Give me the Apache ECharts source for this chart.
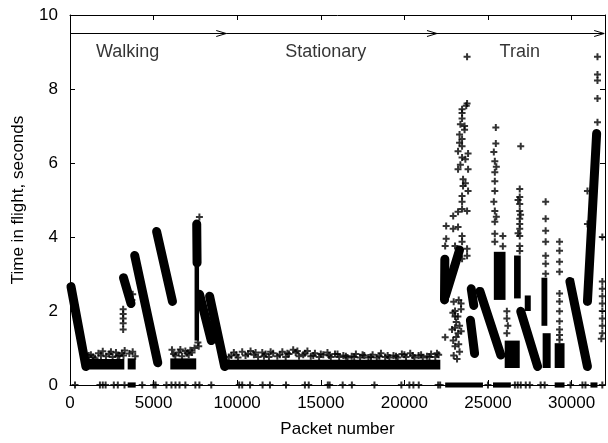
<!DOCTYPE html>
<html>
<head>
<meta charset="utf-8">
<script src="https://cdn.jsdelivr.net/npm/echarts@6/dist/echarts.min.js"></script>
<style>
html, body { margin: 0; padding: 0; background: #fff; }
#chart { width: 608px; height: 443px; }
</style>
</head>
<body>
<div id="chart"></div>
<script>
// Axis ticks
const xTicks = [0, 5000, 10000, 15000, 20000, 25000, 30000];
const yTicks = [0, 2, 4, 6, 8, 10];

// Phases of the trace: [start packet, end packet] drawn as arrows at 9.5 s
const phaseArrows = [[0, 9345], [9345, 21950], [21950, 31950]];
const phaseLabels = [[3450, 9.0, 'Walking'], [15300, 9.0, 'Stationary'], [26900, 9.0, 'Train']];

// Dense decaying runs of packets: [x0, y0, x1, y1]
const walkingRuns = [
  [60, 2.66, 950, 0.5],
  [3200, 2.9, 3650, 2.2],
  [3870, 3.5, 5250, 0.6],
  [5180, 4.15, 6130, 2.26],
  [7580, 4.35, 7600, 3.3],
  [7750, 2.45, 8450, 1.2],
  [8350, 2.4, 9250, 0.5]
];
const trainRuns = [
  [22400, 2.3, 22420, 3.4],
  [22450, 2.4, 23300, 3.65],
  [24000, 2.6, 24150, 2.15],
  [23950, 1.75, 24200, 0.85],
  [24520, 2.53, 25770, 0.81],
  [26960, 1.99, 27970, 0.5],
  [29900, 2.8, 30950, 0.5],
  [30950, 2.26, 31500, 6.8]
];

// Dense clouds of packets: [x0, x1, yLow, yHigh]
const floorClouds = [
  [880, 3250, 0.42, 0.7],
  [3450, 3930, 0.42, 0.72],
  [6000, 7550, 0.42, 0.72],
  [9250, 22150, 0.42, 0.68]
];
const burstClouds = [
  [7450, 7720, 1.2, 3.4],
  [25350, 26050, 2.3, 3.6],
  [26000, 26900, 0.46, 1.2],
  [26560, 26960, 2.34, 3.5],
  [27200, 27560, 2.0, 2.42],
  [28200, 28550, 1.6, 2.9],
  [28270, 28750, 0.46, 1.4],
  [28990, 29580, 0.46, 1.13],
  [29880, 30150, 2.34, 2.88]
];
// Runs of lost packets plotted at zero
const lossRuns = [
  [3450, 3930, -0.07, 0.07],
  [22440, 24700, -0.07, 0.07],
  [25300, 26370, -0.07, 0.07],
  [28990, 29580, -0.07, 0.07],
  [31130, 31550, -0.07, 0.07]
];

// Individual packets
const walkingPts = [
  [1000, 0.74], [1250, 0.82], [1500, 0.72], [1700, 0.86], [1960, 0.91], [2150, 0.78],
  [2350, 0.84], [2550, 0.76], [2750, 0.88], [2950, 0.8], [3100, 0.86], [3270, 0.93],
  [1120, 0.8], [1380, 0.76], [1850, 0.8], [2450, 0.9], [2850, 0.78], [3200, 0.8],
  [3180, 2.05], [3180, 1.92], [3180, 1.8], [3180, 1.67], [3180, 1.5],
  [3700, 2.3], [3750, 2.45], [3550, 0.85], [3750, 0.9], [3900, 0.78],
  [6100, 0.95], [6300, 0.8], [6500, 0.88], [6700, 0.78], [6900, 0.92], [7100, 0.82],
  [7300, 0.88], [7450, 1.0], [6200, 0.84], [6600, 0.96], [7000, 0.86], [7200, 0.94],
  [7740, 4.54], [7650, 1.15], [7700, 1.05]
];
const stationaryPts = [
  [9500, 0.76], [9800, 0.88], [10050, 0.74], [10300, 0.9], [10500, 0.8], [10800, 0.92],
  [11000, 0.82], [11250, 0.76], [11500, 0.88], [11700, 0.84], [11900, 0.76], [12150, 0.86],
  [12400, 0.78], [12700, 0.9], [12900, 0.76], [13100, 0.84], [13350, 0.95], [13500, 0.88],
  [13700, 0.78], [13950, 0.82], [14200, 0.92], [14400, 0.78], [14650, 0.86], [14900, 0.76],
  [15150, 0.82], [15400, 0.88], [15600, 0.76], [15850, 0.84], [16100, 0.76], [16350, 0.8],
  [16600, 0.74], [16850, 0.78], [17100, 0.84], [17350, 0.74], [17600, 0.8], [17850, 0.74],
  [18100, 0.82], [18350, 0.74], [18600, 0.86], [18850, 0.76], [19100, 0.74], [19350, 0.8],
  [19600, 0.74], [19850, 0.84], [20100, 0.76], [20350, 0.86], [20600, 0.74], [20850, 0.8],
  [21100, 0.74], [21350, 0.78], [21600, 0.84], [21850, 0.76], [22050, 0.82],
  [9650, 0.8], [9950, 0.82], [10650, 0.84], [11100, 0.88], [11600, 0.78], [12000, 0.9],
  [12550, 0.82], [13000, 0.86], [13600, 0.92], [14050, 0.86], [14550, 0.8], [15000, 0.84],
  [15500, 0.8], [16000, 0.84], [16500, 0.78], [17000, 0.76], [17500, 0.82], [18000, 0.76],
  [18500, 0.78], [19000, 0.8], [19500, 0.78], [20000, 0.82], [20500, 0.8], [21000, 0.82],
  [21500, 0.76], [21950, 0.86]
];
const trainPts = [
  [23750, 8.87], [23750, 7.61], [23700, 7.55], [23450, 7.45], [23450, 7.35], [23450, 7.2],
  [23300, 6.77], [23450, 6.65], [23300, 6.55], [23450, 6.45], [23210, 6.32], [23810, 6.26],
  [23450, 6.15], [23210, 5.83], [23810, 5.83], [23510, 5.56], [23510, 5.38], [23810, 5.24],
  [23450, 5.11], [23450, 4.95], [23450, 4.76], [23750, 4.7], [22920, 4.57], [23210, 4.68],
  [22920, 4.22], [23210, 4.27], [23450, 4.03], [23450, 3.87], [22440, 3.76], [23030, 3.76],
  [23750, 3.68], [23750, 3.49], [23450, 3.41], [22500, 4.3], [22500, 3.95],
  [23600, 7.0], [23600, 6.9], [23350, 7.05], [23650, 6.1], [23350, 5.95], [23650, 5.45],
  [23030, 2.0], [23030, 1.85], [23100, 1.7], [23030, 1.55], [23210, 1.4], [22920, 1.2],
  [23030, 1.05], [23390, 2.2], [23390, 2.05], [22440, 1.29], [23100, 1.3], [23300, 1.6],
  [23300, 0.9], [22950, 0.8], [23150, 0.7],
  [22900, 1.95], [23200, 1.85], [23250, 2.3], [22850, 1.5], [23250, 1.1], [23400, 1.45],
  [22950, 2.25],
  [25470, 6.96], [25470, 6.53], [25410, 6.05], [25410, 5.75], [25410, 5.51], [25410, 5.24],
  [25410, 4.7], [25410, 4.41], [25410, 4.09], [25410, 3.87], [25890, 4.03], [25890, 3.75],
  [25350, 6.3], [25500, 5.9], [25350, 4.95], [25500, 4.55],
  [26960, 6.45], [26900, 5.3], [26900, 5.08], [26900, 4.89], [26900, 4.7], [26900, 4.49],
  [26900, 4.35], [26900, 4.22], [26900, 4.03], [26900, 3.76], [26900, 3.62],
  [26800, 5.0], [26950, 4.6], [26800, 4.1],
  [26130, 1.99], [26130, 1.8], [26190, 1.6], [26130, 1.4],
  [28450, 4.95], [28450, 4.49], [28450, 4.17], [28450, 3.87], [28450, 3.49], [28450, 3.28],
  [28450, 3.01], [29280, 3.87], [29280, 3.63], [29280, 3.33], [29280, 3.06], [29280, 2.47],
  [29280, 2.26], [29280, 1.99], [29280, 1.72], [29280, 1.5], [29280, 1.35], [29280, 1.22],
  [31550, 8.87], [31550, 8.39], [31550, 8.23], [31550, 7.74], [31550, 7.1], [31840, 4.0],
  [30950, 5.24], [30950, 4.35], [31840, 2.8], [31840, 2.6], [31840, 2.4], [31840, 2.2],
  [31840, 2.0], [31840, 1.8], [31840, 1.6], [31840, 1.4], [31780, 1.25]
];
const lostPts = [
  300, 1790, 1960, 2130, 2620, 2860, 3260, 4320, 5000, 5120, 5770, 6070, 6310, 6550, 6900,
  7500, 7740, 8450, 10120, 10300, 10770, 11520, 11960, 12920, 14050, 14280, 15420, 15530,
  16310, 16860, 18210, 19820, 20300, 20540, 20860, 22020, 22140, 25000, 26610, 26780,
  26960, 27260, 27500, 28150, 28390, 29940, 30650, 30830, 31840
];

const FONT = '"Liberation Sans", Arial, Helvetica, sans-serif';
const PLUS = 'path://M2.5,0H4.5V2.5H7V4.5H4.5V7H2.5V4.5H0V2.5H2.5Z';

const chart = echarts.init(document.getElementById('chart'), null, { renderer: 'canvas' });

function runItem(params, api) {
  const a = api.coord([api.value(0), api.value(1)]);
  const b = api.coord([api.value(2), api.value(3)]);
  return {
    type: 'line',
    shape: { x1: a[0], y1: a[1], x2: b[0], y2: b[1] },
    style: { stroke: '#000', lineWidth: 9, lineCap: 'round' }
  };
}
function cloudItem(params, api) {
  const a = api.coord([api.value(0), api.value(3)]);
  const b = api.coord([api.value(1), api.value(2)]);
  return {
    type: 'rect',
    shape: { x: a[0], y: a[1], width: b[0] - a[0], height: b[1] - a[1] },
    style: { fill: '#000' }
  };
}
function arrowItem(params, api) {
  const a = api.coord([api.value(0), 9.5]);
  const b = api.coord([api.value(1), 9.5]);
  return {
    type: 'group',
    children: [
      { type: 'line', shape: { x1: a[0], y1: a[1], x2: b[0], y2: b[1] }, style: { stroke: '#000', lineWidth: 1 } },
      { type: 'polyline', shape: { points: [[b[0] - 10, b[1] - 3], [b[0], b[1]], [b[0] - 10, b[1] + 3]] }, style: { stroke: '#000', lineWidth: 1, fill: null } }
    ]
  };
}

const axisCommon = {
  type: 'value',
  splitLine: { show: false },
  axisLine: { show: true, onZero: false, lineStyle: { color: '#000', width: 1 } },
  axisTick: { show: true, inside: true, length: 5, lineStyle: { color: '#000', width: 1 } }
};
const plusSeries = (name, data) => ({
  type: 'scatter', name, symbol: PLUS, symbolSize: 7,
  itemStyle: { color: '#000' }, data
});

chart.setOption({
  animation: false,
  backgroundColor: '#fff',
  grid: { left: 70, right: 0, top: 15, bottom: 56, containLabel: false },
  xAxis: [
    Object.assign({}, axisCommon, {
      position: 'bottom', min: xTicks[0], max: 32000, interval: 5000,
      axisLabel: { color: '#000', fontSize: 17, fontFamily: FONT, margin: 10,
        formatter: v => (xTicks.indexOf(v) >= 0 ? String(v) : '') },
      name: 'Packet number', nameLocation: 'middle', nameGap: 36,
      nameTextStyle: { color: '#000', fontSize: 17, fontFamily: FONT }
    }),
    Object.assign({}, axisCommon, {
      position: 'top', min: xTicks[0], max: 32000, interval: 5000,
      axisLabel: { show: false }
    })
  ],
  yAxis: [
    Object.assign({}, axisCommon, {
      position: 'left', min: yTicks[0], max: yTicks[yTicks.length - 1], interval: 2,
      axisLabel: { color: '#000', fontSize: 17, fontFamily: FONT, margin: 12 },
      name: 'Time in flight, seconds', nameLocation: 'middle', nameGap: 43,
      nameTextStyle: { color: '#000', fontSize: 17, fontFamily: FONT }
    }),
    Object.assign({}, axisCommon, {
      position: 'right', min: yTicks[0], max: yTicks[yTicks.length - 1], interval: 2,
      axisLabel: { show: false }
    })
  ],
  series: [
    { type: 'custom', name: 'floor', renderItem: cloudItem, data: floorClouds, encode: { x: [0, 1], y: [2, 3] } },
    { type: 'custom', name: 'bursts', renderItem: cloudItem, data: burstClouds, encode: { x: [0, 1], y: [2, 3] } },
    { type: 'custom', name: 'lossRuns', renderItem: cloudItem, data: lossRuns, encode: { x: [0, 1], y: [2, 3] } },
    { type: 'custom', name: 'walkingRuns', renderItem: runItem, data: walkingRuns, encode: { x: [0, 2], y: [1, 3] } },
    { type: 'custom', name: 'trainRuns', renderItem: runItem, data: trainRuns, encode: { x: [0, 2], y: [1, 3] } },
    plusSeries('walking', walkingPts),
    plusSeries('stationary', stationaryPts),
    plusSeries('train', trainPts),
    plusSeries('lost', lostPts.map(x => [x, 0])),
    { type: 'custom', name: 'phases', renderItem: arrowItem, data: phaseArrows, encode: { x: [0, 1] } },
    {
      type: 'scatter', name: 'phaseNames', symbolSize: 0, data: phaseLabels,
      label: { show: true, position: 'inside', formatter: p => p.value[2], color: '#000', fontSize: 18, fontFamily: FONT }
    }
  ]
});
</script>
</body>
</html>
